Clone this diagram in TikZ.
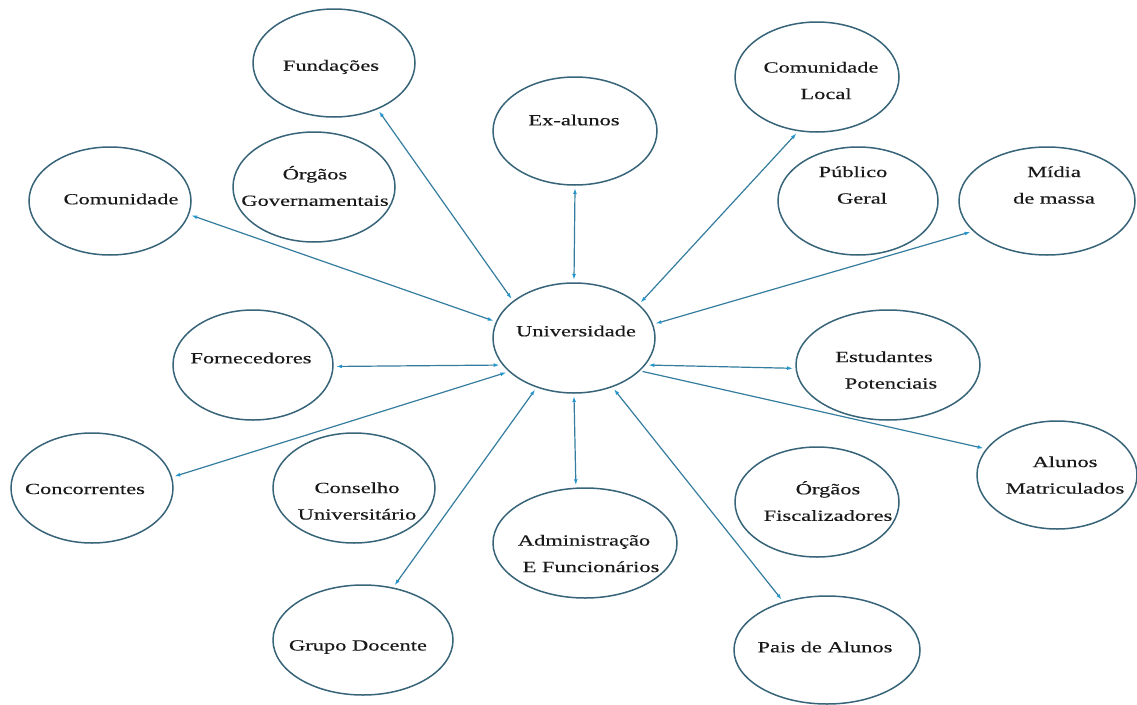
\documentclass[tikz,border=0pt]{standalone}
\usepackage{fontspec}
\setmainfont[FakeStretch=1.45,FakeBold=0.35]{Liberation Serif}
\usetikzlibrary{shapes.geometric,arrows.meta}
\definecolor{rim}{RGB}{55,100,120}
\definecolor{link}{RGB}{52,125,158}
\definecolor{tipc}{RGB}{35,150,205}
\definecolor{ink}{RGB}{25,25,25}

\begin{document}
\begin{tikzpicture}[x=1pt,y=-1pt,
  stake/.style={ellipse, draw=rim, line width=1.5pt, inner sep=0pt, outer sep=3pt},
  lbl/.style={text=ink, font=\fontsize{15.5}{26.5}\selectfont, align=center, inner sep=0pt},
  both/.style={draw=link, line width=1.2pt, {Latex[length=6pt,width=3.8pt,color=tipc]}-{Latex[length=6pt,width=3.8pt,color=tipc]}},
  one/.style={draw=link, line width=1.2pt, -{Latex[length=6pt,width=3.8pt,color=tipc]}}]

\fill[white] (0,0) rectangle (1137,704);
\useasboundingbox (0,0) rectangle (1137,704);

% stakeholder ellipses
\node[stake, minimum width=162pt, minimum height=110pt] (uni)   at (574,338) {};
\node[stake, minimum width=162pt, minimum height=108pt] (fund)  at (334,63)  {};
\node[stake, minimum width=164pt, minimum height=108pt] (exal)  at (575,131) {};
\node[stake, minimum width=164pt, minimum height=110pt] (cloc)  at (817,77)  {};
\node[stake, minimum width=162pt, minimum height=110pt] (ogov)  at (314,187) {};
\node[stake, minimum width=162pt, minimum height=108pt] (comu)  at (110,201) {};
\node[stake, minimum width=160pt, minimum height=108pt] (pubg)  at (858,201) {};
\node[stake, minimum width=176pt, minimum height=108pt] (midia) at (1047,201) {};
\node[stake, minimum width=160pt, minimum height=110pt] (forn)  at (253,365) {};
\node[stake, minimum width=184pt, minimum height=110pt] (estu)  at (888,365) {};
\node[stake, minimum width=162pt, minimum height=110pt] (conc)  at (92,488)  {};
\node[stake, minimum width=162pt, minimum height=110pt] (cons)  at (354,488) {};
\node[stake, minimum width=160pt, minimum height=108pt] (alun)  at (1057,475) {};
\node[stake, minimum width=164pt, minimum height=110pt] (ofis)  at (817,502) {};
\node[stake, minimum width=184pt, minimum height=110pt] (adm)   at (585,543) {};
\node[stake, minimum width=180pt, minimum height=110pt] (grupo) at (363,640) {};
\node[stake, minimum width=186pt, minimum height=108pt] (pais)  at (827,650) {};

% labels
\node[lbl] (uni-t)   at (576,331)   {Universidade};
\node[lbl] (fund-t)  at (331,67)    {Fundações};
\node[lbl] (exal-t)  at (574,120)   {Ex-alunos};
\node[lbl] (cloc-t)  at (821,80.5)  {Comunidade\\\hspace*{10pt}Local};
\node[lbl] (ogov-t)  at (315,186)   {Órgãos\\Governamentais};
\node[lbl] (comu-t)  at (121,199)   {Comunidade};
\node[lbl] (pubg-t)  at (853,185)   {Público\\\hspace*{18pt}Geral};
\node[lbl] (midia-t) at (1054,185)  {Mídia\\de massa};
\node[lbl] (forn-t)  at (251,358)   {Fornecedores};
\node[lbl] (estu-t)  at (884,370)   {Estudantes\\\hspace*{14pt}Potenciais};
\node[lbl] (conc-t)  at (85,489)    {Concorrentes};
\node[lbl] (cons-t)  at (357,501)   {Conselho\\Universitário};
\node[lbl] (alun-t)  at (1065,475)  {Alunos\\Matriculados};
\node[lbl] (ofis-t)  at (828,501)   {Órgãos\\Fiscalizadores};
\node[lbl] (adm-t)   at (584,553.5) {Administração\\\hspace*{14pt}E Funcionários};
\node[lbl] (grupo-t) at (358,647)   {Grupo Docente};
\node[lbl] (pais-t)  at (825,647)   {Pais de Alunos};

% relationships with the university
\draw[both] (fund.-47.4)    -- (uni.148.9);
\draw[both] (comu.-10.9)    -- (uni.168.8);
\draw[both] (exal.south)    -- (uni.north);
\draw[both] (cloc.-110.8)   -- (uni.28.2);
\draw[both] (midia.-158)    -- (uni.10.9);
\draw[both] (forn.-1.3)     -- (uni.-160.3);
\draw[both] (estu.-178.8)   -- (uni.-20.4);
\draw[both] (conc.8.4)      -- (uni.-153.1);
\draw[one]  (uni.-26.8)     -- (alun.160.5);
\draw[both] (grupo.60.7)    -- (uni.-127.2);
\draw[both] (adm.99)        -- (uni.south);
\draw[both] (pais.132.8)    -- (uni.-52.8);
\end{tikzpicture}
\end{document}
